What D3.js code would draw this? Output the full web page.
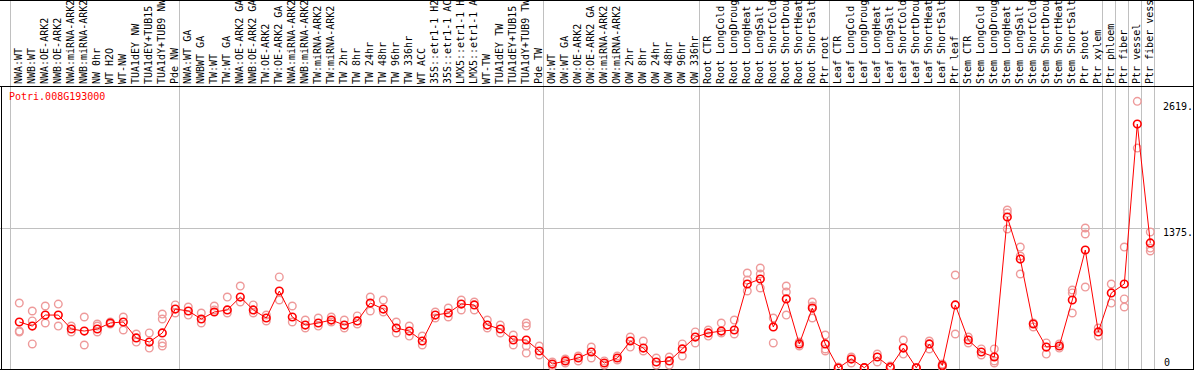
<!DOCTYPE html>
<html>
<head>
<meta charset="utf-8">
<title>Potri.008G193000</title>
<script src="https://d3js.org/d3.v7.min.js"></script>
<style>
  body { margin: 0; background: #fff; }
  svg text { font-family: "DejaVu Sans Mono", monospace; font-size: 10px; }
</style>
</head>
<body>
<svg id="chart"></svg>
<script>
// sample names (one column each)
var labels = [
  "NWA:WT", "NWB:WT", "NWA:OE-ARK2", "NWB:OE-ARK2", "NWA:miRNA-ARK2", "NWB:miRNA-ARK2",
  "NW 0hr", "WT H2O", "WT-NW", "TUA1dEY NW", "TUA1dEY+TUB15", "TUA1dY+TUB9 NW", "Pde NW",
  "NWA:WT GA", "NWBWT GA", "TW:WT", "TW:WT GA", "NWA:OE-ARK2 GA", "NWB:OE-ARK2 GA",
  "TW:OE-ARK2", "TW:OE-ARK2 GA", "NWA:miRNA-ARK2", "NWB:miRNA-ARK2", "TW:miRNA-ARK2", "TW:miRNA-ARK2 ",
  "TW 2hr", "TW 8hr", "TW 24hr", "TW 48hr", "TW 96hr", "TW 336hr", "WT ACC",
  "35S::etr1-1 H2O", "35S::etr1-1 ACC", "LMX5::etr1-1 H2O", "LMX5::etr1-1 ACC", "WT-TW",
  "TUA1dEY TW", "TUA1dEY+TUB15 TW", "TUA1dY+TUB9 TW", "Pde TW",
  "OW:WT", "OW:WT GA", "OW:OE-ARK2", "OW:OE-ARK2 GA", "OW:miRNA-ARK2", "OW:miRNA-ARK2 ",
  "OW 2hr", "OW 8hr", "OW 24hr", "OW 48hr", "OW 96hr", "OW 336hr",
  "Root CTR", "Root LongCold", "Root LongDrought", "Root LongHeat", "Root LongSalt",
  "Root ShortCold", "Root ShortDrought", "Root ShortHeat", "Root ShortSalt", "Ptr root",
  "Leaf CTR", "Leaf LongCold", "Leaf LongDrought", "Leaf LongHeat", "Leaf LongSalt",
  "Leaf ShortCold", "Leaf ShortDrought", "Leaf ShortHeat", "Leaf ShortSalt", "Ptr leaf",
  "Stem CTR", "Stem LongCold", "Stem LongDrought", "Stem LongHeat", "Stem LongSalt",
  "Stem ShortCold", "Stem ShortDrought", "Stem ShortHeat", "Stem ShortSalt", "Ptr shoot",
  "Ptr xylem", "Ptr phloem", "Ptr fiber", "Ptr vessel", "Ptr fiber vessel"
];

// index of the first column of every group (last one = end)
var groupStarts = [0, 13, 41, 53, 63, 73, 84, 85, 86, 87, 88];

// mean expression per column
var means = [
  452, 412, 520, 520, 383, 363, 383, 442, 452, 295, 255, 344, 579,
  560, 481, 550, 570, 697, 570, 491, 756, 501, 422, 442, 471, 422, 462, 638, 579,
  393, 363, 265, 520, 540, 628, 619, 422, 383, 275, 275, 167,
  39, 69, 98, 157, 49, 98, 265, 196, 59, 69, 187, 304,
  344, 363, 373, 825, 874, 403, 678, 236, 589, 236,
  0, 88, 3, 108, 8, 196, 2, 236, 25, 619,
  275, 157, 108, 1483, 1070, 432, 206, 216, 668, 1159, 354,
  737, 825, 2396, 1228
];

// replicate values per column
var reps = [
  [638, 363, 354], [560, 462, 236], [609, 442], [628, 412], [412, 354], [501, 226],
  [432, 354, 412], [452, 432], [501, 373], [334, 255], [344, 196], [530, 481, 246, 216], [619, 540],
  [599, 520], [540, 442], [609, 570], [697, 540], [805, 648], [619, 540], [520, 462],
  [894, 668], [609, 452], [471, 393], [491, 412], [501, 452], [471, 393], [511, 432],
  [697, 560], [668, 550], [452, 344], [412, 314], [314, 226], [550, 491], [589, 501],
  [668, 570], [648, 570], [471, 393], [422, 344], [324, 226], [442, 412, 216, 147], [216, 128],
  [20, 59], [88, 49], [118, 69], [206, 98], [69, 29], [118, 79], [304, 206], [265, 167],
  [98, 29], [108, 29], [236, 118], [354, 246],
  [373, 314], [442, 344], [471, 334], [933, 864, 756], [982, 923, 786], [491, 246],
  [805, 746, 520], [255, 216], [648, 609, 491], [324, 187, 167],
  [0, 10], [108, 49], [2, 5], [137, 59], [20, 3], [275, 137], [0, 4], [265, 187], [39, 8], [913, 334],
  [304, 246], [187, 128], [187, 69, 49], [1552, 1522, 1365], [1188, 1100, 923], [442, 403],
  [246, 137], [196, 236], [766, 737, 540], [1375, 1316, 795], [393, 314],
  [825, 638], [1188, 678, 599], [2619, 2160], [1336, 1178, 1149]
];

var geneName = "Potri.008G193000";
var maxValue = 2619;
var midValue = 1375;

var W = 1194, H = 370;
var headerBottom = 86, plotBottom = 368;

var svg = d3.select("#chart").attr("width", W).attr("height", H);

var x = d3.scaleBand().domain(d3.range(labels.length)).range([11, 1155]);
var y = d3.scaleLinear().domain([0, maxValue * 1.05]).range([plotBottom, 88]);

function px(i) { return x(i) + 8.3; }

// group separators
svg.append("g").selectAll("line")
  .data(groupStarts)
  .enter().append("line")
  .attr("x1", function(d){ return Math.round(d === labels.length ? x(d - 1) + x.bandwidth() : x(d)) - 0.5; })
  .attr("x2", function(d){ return Math.round(d === labels.length ? x(d - 1) + x.bandwidth() : x(d)) - 0.5; })
  .attr("y1", 0).attr("y2", H)
  .attr("stroke", "#c0c0c0").attr("stroke-width", 1);

// middle grid line
svg.append("line")
  .attr("x1", 0).attr("x2", 1160)
  .attr("y1", Math.round(y(midValue)) + 0.5).attr("y2", Math.round(y(midValue)) + 0.5)
  .attr("stroke", "#c0c0c0");

// frame
svg.append("line").attr("x1", 0).attr("x2", W).attr("y1", headerBottom + 0.5).attr("y2", headerBottom + 0.5).attr("stroke", "#000");
svg.append("line").attr("x1", 0).attr("x2", W).attr("y1", 369.5).attr("y2", 369.5).attr("stroke", "#000");
svg.append("line").attr("x1", 1.5).attr("x2", 1.5).attr("y1", headerBottom).attr("y2", H).attr("stroke", "#000");
svg.append("line").attr("x1", 0).attr("x2", W).attr("y1", 0.5).attr("y2", 0.5).attr("stroke", "#000");
svg.append("line").attr("x1", W - 0.5).attr("x2", W - 0.5).attr("y1", 0).attr("y2", H).attr("stroke", "#000");

// column labels
svg.append("g").selectAll("text")
  .data(labels)
  .enter().append("text")
  .attr("transform", function(d, i){ return "translate(" + (x(i) + 11) + "," + (headerBottom - 2) + ") rotate(-90)"; })
  .attr("fill", "#000")
  .text(function(d){ return d.trim(); });

// gene name
svg.append("text").attr("x", 9).attr("y", 100).attr("fill", "#ff0000").text(geneName);

// right axis labels
svg.append("text").attr("x", 1163).attr("y", y(maxValue) + 9).text(maxValue + ".");
svg.append("text").attr("x", 1163).attr("y", y(midValue) + 8).text(midValue + ".");
svg.append("text").attr("x", 1164).attr("y", plotBottom - 2).text("0");

// replicates
var repPts = [];
reps.forEach(function(r, i){ r.forEach(function(v){ repPts.push({i: i, v: v}); }); });
svg.append("g").selectAll("circle")
  .data(repPts)
  .enter().append("circle")
  .attr("cx", function(d){ return px(d.i); })
  .attr("cy", function(d){ return y(d.v); })
  .attr("r", 3.8)
  .attr("fill", "none")
  .attr("stroke", "#ee9a9a")
  .attr("stroke-width", 1.4);

// mean line
var line = d3.line()
  .x(function(d, i){ return px(i); })
  .y(function(d){ return y(d); });
svg.append("path")
  .datum(means)
  .attr("d", line)
  .attr("fill", "none")
  .attr("stroke", "#ff0000")
  .attr("stroke-width", 1);

svg.append("g").selectAll("circle")
  .data(means)
  .enter().append("circle")
  .attr("cx", function(d, i){ return px(i); })
  .attr("cy", function(d){ return y(d); })
  .attr("r", 3.8)
  .attr("fill", "none")
  .attr("stroke", "#ff0000")
  .attr("stroke-width", 1.6);
</script>
</body>
</html>
